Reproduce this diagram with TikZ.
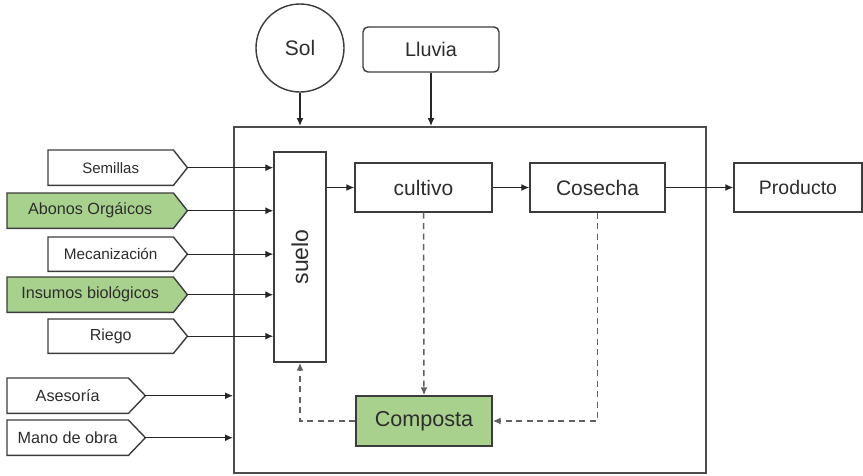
\documentclass[tikz,border=0pt]{standalone}
\usepackage{fontspec}
\setmainfont{Liberation Sans}
\usetikzlibrary{arrows.meta,calc}
\pgfdeclarelayer{background}
\pgfsetlayers{background,main}
\definecolor{boxgreen}{RGB}{169,209,142}
\definecolor{edge}{RGB}{60,60,60}
\definecolor{txt}{RGB}{45,45,45}
\newcommand\inbox[9]{%
  \node[body, minimum width=#4pt, minimum height=#5pt,
        font=\fontsize{#8}{#8}\selectfont, anchor=north west] (#1) at (#2,#3) {#9};
  \begin{pgfonlayer}{background}
  \draw[draw=edge, line width=1.4pt, fill=#7] (#1.north west) -- (#1.north east)
     -- ($(#1.east)+(#6,0)$) coordinate (#1tip) -- (#1.south east) -- (#1.south west) -- cycle;
  \end{pgfonlayer}}
\begin{document}
\begin{tikzpicture}[x=1pt,y=-1pt,
  box/.style={draw=edge, line width=1.4pt, fill=white, inner sep=0pt, text=txt},
  body/.style={inner sep=0pt, text=txt},
  arr/.style={draw=black!85, line width=1.3pt, -{Latex[length=8pt,width=7pt]}},
  dasharr/.style={draw=black!62, line width=1.5pt, dash pattern=on 6pt off 4.5pt, -{Latex[length=8pt,width=7pt]}},
  fs/.style={font=\fontsize{#1}{#1}\selectfont}]
\useasboundingbox (0,0) rectangle (863,475);

% left input boxes
\inbox{sem}{48}{150}{125}{35}{14}{white}{15}{Semillas}
\inbox{abo}{7}{193}{166}{35}{14}{boxgreen}{16.2}{Abonos Orgáicos}
\inbox{mec}{48}{237}{125}{34}{14}{white}{15.3}{Mecanización}
\inbox{ins}{7}{277}{166}{35}{14}{boxgreen}{16.2}{Insumos biológicos}
\inbox{rie}{48}{319}{125}{34}{14}{white}{16}{Riego}
\inbox{ase}{7}{378}{121}{35}{17}{white}{16.2}{Asesoría}
\inbox{man}{7}{420}{121}{35}{17}{white}{16.2}{Mano de obra}

% system boundary
\node[draw=black!70, line width=1.6pt, minimum width=472pt, minimum height=346pt,
      anchor=north west, inner sep=0pt] (big) at (233,126) {};

% top inputs
\node[box, circle, minimum size=88pt, fs=21] (sol) at (300,48) {Sol};
\node[box, rounded corners=5pt, minimum width=136pt, minimum height=45pt, fs=19.8] (lluvia) at (431,49.5) {Lluvia};

% inner boxes
\node[box, minimum width=52pt, minimum height=210pt] (suelo) at (300,257) {};
\node[body, rotate=90, fs=23] (suelotxt) at (suelo) {suelo};
\node[box, minimum width=137pt, minimum height=49pt, fs=21] (cultivo) at (423.5,187.5) {cultivo};
\node[box, minimum width=135pt, minimum height=49pt, fs=21] (cosecha) at (597.5,187.5) {Cosecha};
\node[box, minimum width=128pt, minimum height=49pt, fs=19.5] (producto) at (798,187.5) {Producto};
\node[box, fill=boxgreen, minimum width=136pt, minimum height=50pt, fs=21.6] (composta) at (424,421) {Composta};

% connectors
\draw[arr] (semtip) -- (semtip -| suelo.west);
\draw[arr] (abotip) -- (abotip -| suelo.west);
\draw[arr] (mectip) -- (mectip -| suelo.west);
\draw[arr] (instip) -- (instip -| suelo.west);
\draw[arr] (rietip) -- (rietip -| suelo.west);
\draw[arr] (asetip) -- (asetip -| big.west);
\draw[arr] (mantip) -- (mantip -| big.west);
\draw[arr] (sol.south) -- (sol.south |- big.north);
\draw[arr] (lluvia.south) -- (lluvia.south |- big.north);
\draw[arr] (suelo.east |- cultivo.west) -- (cultivo.west);
\draw[arr] (cultivo.east) -- (cosecha.west);
\draw[arr] (cosecha.east) -- (producto.west);
\draw[dasharr] (cultivo.south) -- (composta.north);
\draw[dasharr] (cosecha.south) |- (composta.east);
\draw[dasharr] (composta.west) -| (suelo.south);
\end{tikzpicture}
\end{document}
